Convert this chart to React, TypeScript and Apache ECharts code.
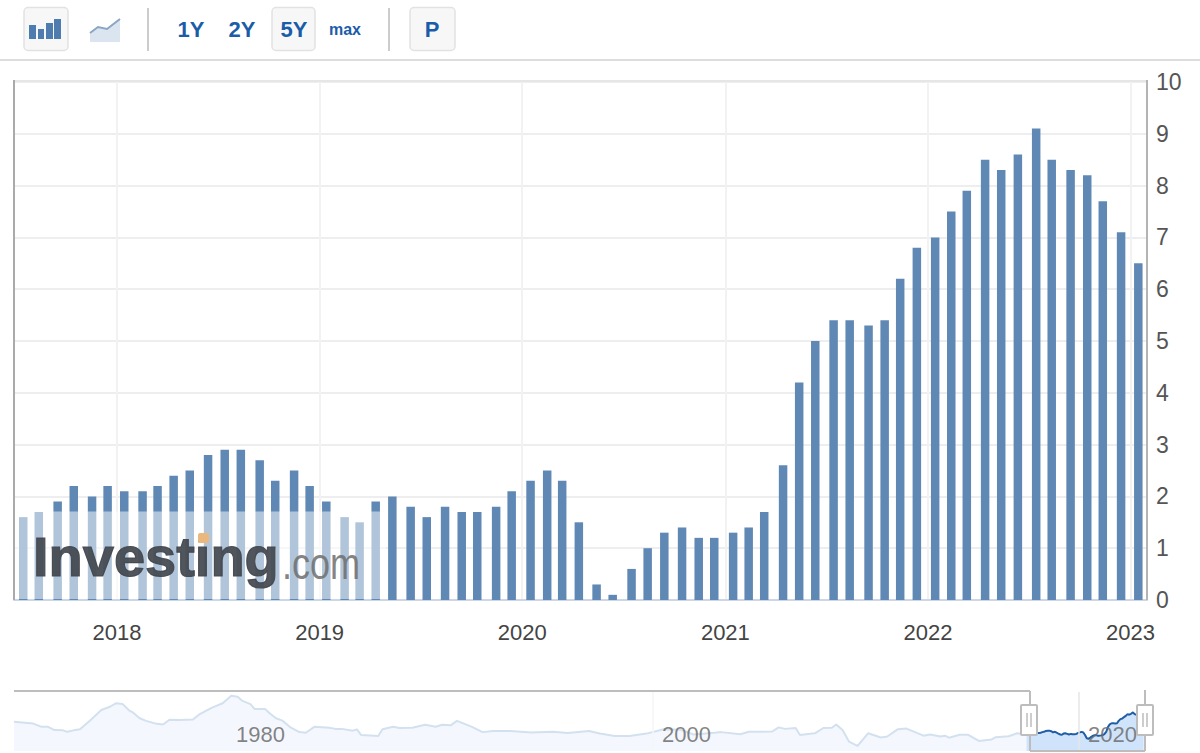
import * as echarts from "echarts";
import { useEffect, useRef } from "react";

// release dates of the monthly figures shown in the main chart
const releaseDates = [
  "2017-07-16", "2017-08-13", "2017-09-16", "2017-10-15", "2017-11-17", "2017-12-15",
  "2018-01-14", "2018-02-16", "2018-03-15", "2018-04-13", "2018-05-12", "2018-06-14",
  "2018-07-14", "2018-08-12", "2018-09-15", "2018-10-13", "2018-11-16", "2018-12-14",
  "2019-01-13", "2019-02-15", "2019-03-14", "2019-04-12", "2019-05-12", "2019-06-14",
  "2019-07-13", "2019-08-15", "2019-09-14", "2019-10-12", "2019-11-15", "2019-12-13",
  "2020-01-16", "2020-02-15", "2020-03-13", "2020-04-12", "2020-05-14", "2020-06-12",
  "2020-07-16", "2020-08-14", "2020-09-13", "2020-10-15", "2020-11-14", "2020-12-12",
  "2021-01-15", "2021-02-12", "2021-03-12", "2021-04-15", "2021-05-14", "2021-06-12",
  "2021-07-15", "2021-08-13", "2021-09-16", "2021-10-15", "2021-11-12", "2021-12-12",
  "2022-01-14", "2022-02-12", "2022-03-12", "2022-04-14", "2022-05-13", "2022-06-12",
  "2022-07-15", "2022-08-12", "2022-09-15", "2022-10-15", "2022-11-12", "2022-12-15",
  "2023-01-15",
];
const monthlyValues = [
  1.6, 1.7, 1.9, 2.2, 2.0, 2.2,
  2.1, 2.1, 2.2, 2.4, 2.5, 2.8, 2.9, 2.9, 2.7, 2.3, 2.5, 2.2,
  1.9, 1.6, 1.5, 1.9, 2.0, 1.8, 1.6, 1.8, 1.7, 1.7, 1.8, 2.1,
  2.3, 2.5, 2.3, 1.5, 0.3, 0.1, 0.6, 1.0, 1.3, 1.4, 1.2, 1.2,
  1.3, 1.4, 1.7, 2.6, 4.2, 5.0, 5.4, 5.4, 5.3, 5.4, 6.2, 6.8,
  7.0, 7.5, 7.9, 8.5, 8.3, 8.6, 9.1, 8.5, 8.3, 8.2, 7.7, 7.1,
  6.5,
];

// long history for the navigator strip
const historyYears = [
  1970, 1970.9, 1971.3, 1971.6, 1971.9, 1972.3, 1972.5, 1972.8, 1973.1, 1973.6,
  1974.1, 1974.5, 1974.8, 1975.1, 1975.4, 1975.6, 1975.9, 1976.2, 1976.7, 1977,
  1977.3, 1977.8, 1978.4, 1978.7, 1979.3, 1979.8, 1980.2, 1980.5, 1980.7, 1981.1,
  1981.3, 1981.8, 1982, 1982.3, 1982.6, 1983, 1983.4, 1983.7, 1984.1, 1984.8,
  1985.1, 1985.4, 1985.9, 1986.1, 1986.3, 1987.1, 1987.3, 1987.8, 1988.1, 1988.7,
  1989.3, 1989.8, 1990.1, 1990.5, 1990.8, 1991.5, 1992, 1992.5, 1993.3, 1994.3,
  1995.3, 1996, 1997, 1997.5, 1998.2, 1998.9, 1999.7, 2000.5, 2001.3, 2001.9,
  2002.9, 2003.2, 2004.1, 2004.5, 2005.6, 2005.9, 2006.2, 2006.7, 2006.9, 2007.6,
  2008, 2008.4, 2008.6, 2008.9, 2009.2, 2009.6, 2010.1, 2010.7, 2011, 2011.5,
  2011.9, 2012.7, 2013, 2013.5, 2013.7, 2013.9, 2014.4, 2014.8, 2015.3, 2015.9,
  2016.1, 2016.7, 2017.1,
];
const historyValues = [
  5.9, 5.3, 4.2, 4.2, 3.1, 3.0, 2.5, 3.0, 3.4, 6.5,
  9.9, 11, 12.2, 11.9, 9.8, 9.0, 7.1, 6.2, 5.2, 5.0,
  6.6, 6.5, 6.7, 8.4, 10.7, 12.2, 14.7, 14.4, 13.1, 11.9,
  10.2, 10.2, 8.8, 7.1, 6.3, 3.9, 2.4, 2.2, 4.2, 3.9,
  3.5, 3.5, 2.9, 3.3, 1.4, 1.1, 3.4, 4.2, 3.8, 3.9,
  4.9, 4.2, 4.9, 4.7, 6.2, 4.2, 2.4, 2.8, 2.8, 2.3,
  2.5, 2.1, 2.8, 1.9, 1.1, 1.1, 1.9, 3.4, 3.2, 1.6,
  2.2, 2.4, 1.7, 2.5, 2.6, 4.0, 3.5, 3.8, 1.4, 2.0,
  3.8, 3.9, 5.0, 3.1, -0.8, -2.3, 2.0, 0.6, 0.9, 3.4,
  3.6, 1.2, 1.6, 0.9, 1.2, 0.5, 1.5, 1.5, -0.6, -0.1,
  0.7, 1.0, 2.0,
];

const yearLabels = ["2018", "2019", "2020", "2021", "2022", "2023"];
const navigatorLabels = [1980, 2000, 2020];
const yTicks = 10;

const BLUE = "#1b5ca8";
const toYear = (d: string) => {
  const t = new Date(d + "T00:00:00Z");
  const start = Date.UTC(t.getUTCFullYear(), 0, 1);
  const end = Date.UTC(t.getUTCFullYear() + 1, 0, 1);
  return t.getUTCFullYear() + (t.getTime() - start) / (end - start);
};

const button = (x: number, w: number) => ({
  type: "rect",
  shape: { x, y: 7.5, width: w, height: 43, r: 4 },
  style: { fill: "#f7f7f7", stroke: "#e2e2e2", lineWidth: 1.5 },
  z: 10,
});
const label = (x: number, text: string, size: number) => ({
  type: "text",
  x,
  y: 29,
  style: {
    text,
    fill: BLUE,
    font: `bold ${size}px "Liberation Sans", Arial, sans-serif`,
    align: "center",
    verticalAlign: "middle",
  },
  z: 11,
});
const rule = (x1: number, y1: number, x2: number, y2: number, stroke: string, lineWidth = 2, z = 10) => ({
  type: "line",
  shape: { x1, y1, x2, y2 },
  style: { stroke, lineWidth },
  z,
});
const iconBar = (x: number, y: number, width: number) => ({
  type: "rect",
  shape: { x, y, width, height: 39 - y },
  style: { fill: "#4f7cae" },
  z: 11,
});
const handle = (x: number) => [
  {
    type: "rect",
    shape: { x, y: 705, width: 16, height: 30, r: 1 },
    style: { fill: "#ffffff", stroke: "#bdbdbd", lineWidth: 2 },
    z: 30,
  },
  rule(x + 6, 713, x + 6, 727, "#bdbdbd", 1.5, 31),
  rule(x + 10, 713, x + 10, 727, "#bdbdbd", 1.5, 31),
];

const App = () => {
  const chartRef = useRef<HTMLDivElement>(null);

  useEffect(() => {
    const myChart = echarts.init(chartRef.current, null, { renderer: "svg" });
    const barData = releaseDates.map((d, i) => [d, monthlyValues[i]]);
    const selected = releaseDates.map((d, i) => [toYear(d), monthlyValues[i]]);
    const history = historyYears.map((y, i) => [y, historyValues[i]]);

    const option: any = {
      animation: false,
      useUTC: true,
      backgroundColor: "#ffffff",
      grid: [
        { left: 14, top: 82, width: 1133, height: 518 },
        { left: 14, top: 692, width: 1131, height: 59 },
      ],
      xAxis: [
        {
          type: "time",
          gridIndex: 0,
          // the bars widen the extent by about a week on each side
          min: "2017-07-07",
          max: "2023-01-23",
          minInterval: 365 * 24 * 3600 * 1000,
          axisLine: { show: true, lineStyle: { color: "#cbd6e6", width: 2 } },
          axisTick: { show: false },
          axisLabel: {
            color: "#444444",
            fontSize: 22,
            fontFamily: "Liberation Sans, Arial, sans-serif",
            margin: 21,
            showMinLabel: false,
            showMaxLabel: false,
            formatter: (v: number) => {
              const year = String(new Date(v).getUTCFullYear());
              return yearLabels.includes(year) ? year : "";
            },
          },
          splitLine: { show: true, lineStyle: { color: "#f2f2f2", width: 2 } },
        },
        {
          type: "value",
          gridIndex: 1,
          min: 1970,
          max: 2023.1,
          interval: 10,
          z: 10,
          axisLine: { show: false },
          axisTick: { show: false },
          splitLine: { show: false },
          axisLabel: {
            inside: true,
            color: "rgba(110,110,110,0.85)",
            fontSize: 22,
            fontFamily: "Liberation Sans, Arial, sans-serif",
            align: "left",
            padding: [0, 0, 0, 9],
            margin: 6,
            formatter: (v: number) => (navigatorLabels.includes(v) ? String(v) : ""),
          },
        },
      ],
      yAxis: [
        {
          type: "value",
          gridIndex: 0,
          position: "right",
          min: 0,
          max: yTicks,
          interval: 1,
          axisLine: { show: false },
          axisTick: { show: false },
          axisLabel: {
            color: "#555555",
            fontSize: 23,
            fontFamily: "Liberation Sans, Arial, sans-serif",
            margin: 9,
            padding: [0, 0, 3, 0],
          },
          splitLine: { show: true, lineStyle: { color: "#eeeeee", width: 2 } },
        },
        {
          type: "value",
          gridIndex: 1,
          min: -4,
          max: 16,
          show: false,
          splitLine: { show: false },
        },
      ],
      series: [
        {
          type: "bar",
          xAxisIndex: 0,
          yAxisIndex: 0,
          data: barData,
          barWidth: 8.5,
          itemStyle: { color: "#6088b4" },
        },
        {
          // only carries the navigator's grid lines, under the areas
          type: "line",
          xAxisIndex: 1,
          yAxisIndex: 1,
          data: [],
          z: 1,
          markLine: {
            silent: true,
            symbol: "none",
            label: { show: false },
            lineStyle: { type: "solid", width: 1.5 },
            data: [
              { xAxis: 2000, lineStyle: { color: "#f6f6f6" } },
              { xAxis: 2020, lineStyle: { color: "#e6e6e6" } },
            ],
          },
        },
        {
          type: "line",
          xAxisIndex: 1,
          yAxisIndex: 1,
          data: [...history, selected[0]],
          showSymbol: false,
          z: 2,
          lineStyle: { color: "#d3e1ef", width: 2 },
          areaStyle: { color: "#f4f8fe", opacity: 1, origin: "start" },
        },
        {
          type: "line",
          xAxisIndex: 1,
          yAxisIndex: 1,
          data: selected,
          showSymbol: false,
          z: 3,
          lineStyle: { color: "#1f5da6", width: 2 },
          areaStyle: { color: "#cfe3fb", opacity: 1, origin: "start" },
        },
      ],
      graphic: [
        // toolbar
        button(24, 44),
        iconBar(29, 25, 7),
        iconBar(38, 29, 6),
        iconBar(46, 23, 7),
        iconBar(54, 19, 7),
        {
          type: "polygon",
          shape: { points: [[90, 33], [98, 27], [107, 29], [120, 19], [120, 42], [90, 42]] },
          style: { fill: "#dbe5f0" },
          z: 11,
        },
        {
          type: "polyline",
          shape: { points: [[90, 33], [98, 27], [107, 29], [120, 19]] },
          style: { stroke: "#8aa6c4", lineWidth: 2, fill: "none" },
          z: 11,
        },
        rule(148, 8, 148, 51, "#cccccc"),
        label(191, "1Y", 22),
        label(242, "2Y", 22),
        button(272, 43),
        label(294, "5Y", 22),
        label(345, "max", 16),
        rule(389, 8, 389, 51, "#cccccc"),
        button(410, 45),
        label(432, "P", 22),
        rule(0, 60, 1200, 60, "#dddddd"),
        // chart frame
        rule(14, 81, 1147, 81, "#e6e6e6"),
        rule(14, 80, 14, 600, "#aaaaaa"),
        rule(1147, 80, 1147, 600, "#b4b4b4"),
        // watermark
        {
          type: "rect",
          shape: { x: 15, y: 511.5, width: 371, height: 87.5 },
          style: { fill: "rgba(255,255,255,0.5)" },
          z: 20,
        },
        {
          type: "text",
          x: 33,
          y: 584,
          style: {
            text: "Investing",
            fill: "rgba(66,70,78,0.92)",
            stroke: "rgba(66,70,78,0.92)",
            lineWidth: 1.2,
            font: 'bold 56px "Liberation Sans", Arial, sans-serif',
            align: "left",
            verticalAlign: "bottom",
          },
          z: 21,
        },
        {
          type: "text",
          x: 282,
          y: 586,
          scaleX: 0.82,
          style: {
            text: ".com",
            fill: "rgba(110,110,110,0.85)",
            font: '44px "Liberation Sans", Arial, sans-serif',
            align: "left",
            verticalAlign: "bottom",
          },
          z: 21,
        },
        {
          type: "rect",
          shape: { x: 198, y: 533, width: 11, height: 10, r: 2 },
          style: { fill: "#eab77f" },
          z: 22,
        },
        // navigator frame
        rule(14, 691, 1030, 691, "#bdbdbd", 2, 25),
        rule(1030, 691, 1030, 751, "#bdbdbd", 2, 25),
        rule(1030, 751, 1145, 751, "#bdbdbd", 2, 25),
        rule(1145, 690, 1145, 751, "#bdbdbd", 2, 25),
        ...handle(1021),
        ...handle(1137),
      ],
    };
    myChart.setOption(option);
    return () => {
      myChart.dispose();
    };
  }, []);

  return (
    <div
      ref={chartRef}
      style={{ position: "fixed", left: 0, top: 0, width: "1200px", height: "753px" }}
    />
  );
};

export default App;
